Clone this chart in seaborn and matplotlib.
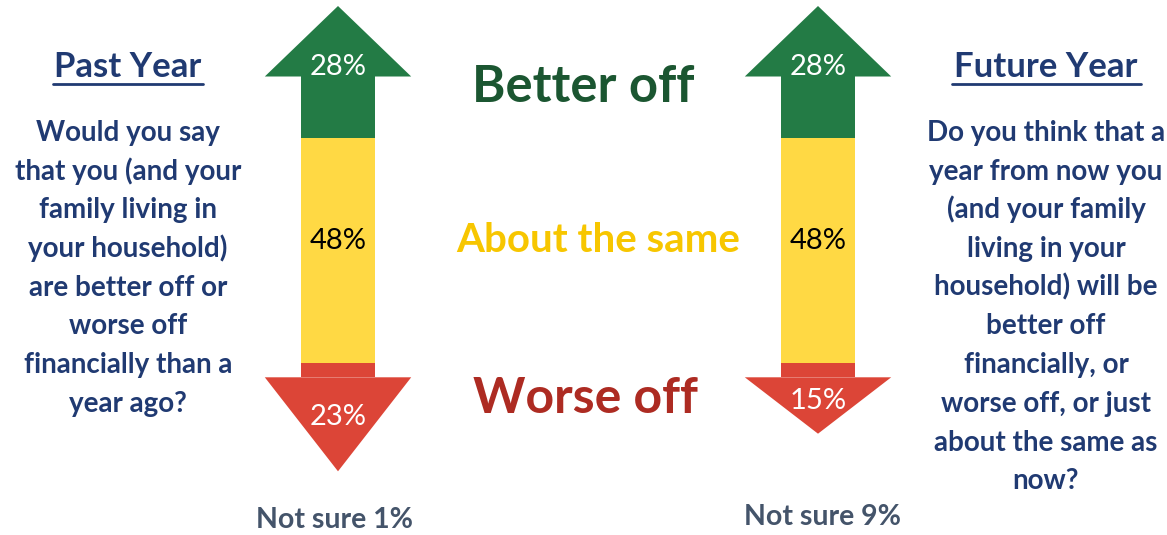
import matplotlib
matplotlib.use("Agg")
import matplotlib.pyplot as plt
import seaborn as sns
from matplotlib.lines import Line2D

# ---- data ----
periods = ["Past Year", "Future Year"]
better = [28, 28]
same = [48, 48]
worse = [23, 15]
not_sure = [1, 9]
outcomes = ["Better off", "About the same", "Worse off"]
past_question = ["Would you say", "that you (and your", "family living in",
                 "your household)", "are better off or", "worse off",
                 "financially than a", "year ago?"]
future_question = ["Do you think that a", "year from now you", "(and your family",
                   "living in your", "household) will be", "better off",
                   "financially, or", "worse off, or just", "about the same as",
                   "now?"]

GREEN = "#237B45"
YELLOW = "#FFD944"
RED = "#DC4537"
NAVY = "#203A72"
SLATE = "#44546A"
TXT_GREEN = "#1B5631"
TXT_YELLOW = "#F7C600"
TXT_RED = "#AD2B22"

sns.set_theme(style="white")
plt.rcParams["font.family"] = ["Lato", "DejaVu Sans"]

W, H = 1167, 535
fig = plt.figure(figsize=(W / 100, H / 100), dpi=100)
ax = fig.add_axes([0, 0, 1, 1])

# arrow geometry (in % units / category units)
HEAD_G = 15
RED_BODY = 3
BAR_W = 0.155
HEAD_W = 0.305
K = 4.7  # px per % unit

top = [100, 100]
green_lo = [t - b for t, b in zip(top, better)]
yellow_lo = [g - s for g, s in zip(green_lo, same)]
red_lo = [y - w for y, w in zip(yellow_lo, worse)]

bar_kw = dict(x=periods, order=periods, width=BAR_W, saturation=1,
              errorbar=None, linewidth=0, ax=ax)

# yellow body
sns.barplot(y=same, bottom=yellow_lo, color=YELLOW, **bar_kw)
# green body (below the head)
g_body = [t - HEAD_G - g for t, g in zip(top, green_lo)]
sns.barplot(y=g_body, bottom=green_lo, color=GREEN, **bar_kw)
# red body (above the head)
sns.barplot(y=[RED_BODY] * 2, bottom=[y - RED_BODY for y in yellow_lo],
            color=RED, **bar_kw)

for i in range(len(periods)):
    # green head
    gb = top[i] - HEAD_G
    ax.fill([i - HEAD_W / 2, i + HEAD_W / 2, i], [gb, gb, top[i]],
            color=GREEN, lw=0)
    # red head
    rb = yellow_lo[i] - RED_BODY
    ax.fill([i - HEAD_W / 2, i + HEAD_W / 2, i], [rb, rb, red_lo[i]],
            color=RED, lw=0)
    ax.text(i, gb + 2.0, f"{better[i]}%", color="white", fontsize=21,
            ha="center", va="center")
    ax.text(i, (green_lo[i] + yellow_lo[i]) / 2 + 2.0, f"{same[i]}%",
            color="black", fontsize=21, ha="center", va="center")
    ax.text(i, rb + (red_lo[i] - rb) * 0.42, f"{worse[i]}%", color="white",
            fontsize=21, ha="center", va="center")

ax.set_xlim(-338 / 480, (W - 338) / 480)
ax.set_ylim(100 - 529 / K, 100 + 6 / K)
ax.axis("off")


def px(x, y):
    return x / W, 1 - y / H


# middle labels
for lab, col, (x, y), fs in zip(outcomes, [TXT_GREEN, TXT_YELLOW, TXT_RED],
                                 [(583, 102), (598, 252), (585, 413)],
                                 [36.5, 29, 36]):
    fig.text(*px(x, y), lab, color=col, fontsize=fs, fontweight="bold",
             ha="center", va="baseline")

# titles with underline
for title, cx, x0, x1 in [("Past Year", 128, 53, 203),
                          ("Future Year", 1046, 952, 1141)]:
    fig.text(*px(cx, 77), title, color=NAVY, fontsize=25, fontweight="bold",
             ha="center", va="baseline")
    fig.add_artist(Line2D([x0 / W, x1 / W], [1 - 84 / H] * 2, color=NAVY,
                          lw=2, transform=fig.transFigure))

# question text
for lines, cx in [(past_question, 128), (future_question, 1046)]:
    for k, line in enumerate(lines):
        fig.text(*px(cx, 141 + k * 38.7), line, color=NAVY, fontsize=20,
                 fontweight="bold", ha="center", va="baseline")

# not sure
for i, (cx, by) in enumerate([(334, 528), (823, 525)]):
    fig.text(*px(cx, by), f"Not sure {not_sure[i]}%", color=SLATE,
             fontsize=20.5, fontweight="bold", ha="center", va="baseline")

fig.savefig("out.png", dpi=100)
